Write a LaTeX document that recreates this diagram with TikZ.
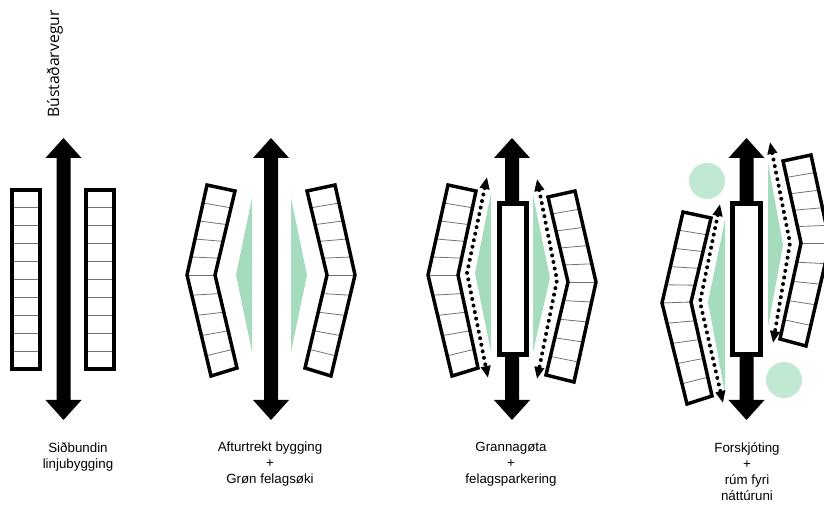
\documentclass[tikz,border=0pt]{standalone}
\usepackage{fontspec}
\setmainfont{Liberation Sans}
\newfontfamily\roadfont{Open Sans}
\usetikzlibrary{calc,arrows.meta}
\definecolor{grn}{RGB}{166,220,190}
\definecolor{grnl}{RGB}{192,232,211}
\tikzset{
 bldgline/.style={line width=2.6pt, line join=miter},
 divline/.style={line width=0.6pt, black!55},
 greenarea/.style={fill=grn},
 greencircle/.style={fill=grnl},
 park/.style={draw=black, line width=3.75pt, fill=white},
 walk/.style={line width=3pt, dash pattern=on 0pt off 5pt, line cap=round,
   {Triangle[length=9pt,width=7pt]}-{Triangle[length=9pt,width=7pt]}},
 caption/.style={align=center, font=\fontsize{10}{12}\selectfont, anchor=north, inner sep=0pt},
}
\newcommand\bldg[6]{%
 \fill[white] (#1)--(#2)--(#3)--(#6)--(#5)--(#4)--cycle;
 \foreach \k in {1,...,5}{\draw[divline] ($(#1)!\k/5!(#2)$)--($(#4)!\k/5!(#5)$);}
 \foreach \k in {1,...,4}{\draw[divline] ($(#2)!\k/5!(#3)$)--($(#5)!\k/5!(#6)$);}
 \draw[bldgline] (#1)--(#2)--(#3)--(#6)--(#5)--(#4)--cycle;
}
\newcommand\roadarrow[1]{%
 \fill (#1-7,158)--(#1-18,158)--(#1,138)--(#1+18,158)--(#1+7,158)--(#1+7,400)--(#1+18,400)--(#1,420)--(#1-18,400)--(#1-7,400)--cycle;
}
\begin{document}
\begin{tikzpicture}[x=0.75pt,y=-0.75pt]
\useasboundingbox (0,0) rectangle (824,505);

% Panel 1
\roadarrow{63.5}
\bldg{12,190}{12,279.5}{12,369}{40,190}{40,279.5}{40,369}
\bldg{86,190}{86,279.5}{86,369}{114,190}{114,279.5}{114,369}
\node[rotate=90, font=\roadfont\fontsize{11.8}{13}\selectfont, inner sep=0pt] (roadlabel) at (55,64) {Bústaðarvegur};

% Panel 2
\roadarrow{271}
\fill[greenarea] (252,198)--(236,275)--(252,352)--cycle;
\fill[greenarea] (291,198)--(307,275)--(291,352)--cycle;
\bldg{207,185}{187,275}{211,376}{235,191}{215,275}{237,368}
\bldg{335,185}{355,275}{331,376}{307,191}{327,275}{305,368}

% Panel 3
\roadarrow{512}
\draw[park] (499.5,203.5) rectangle (526.5,354.5);
\fill[greenarea] (491,193)--(475,273)--(491,352)--cycle;
\fill[greenarea] (533,195)--(550,278)--(533,352)--cycle;
\bldg{448,185}{428,275}{452,376}{476,191}{458,275}{478,368}
\bldg{575,191}{596,282}{574,382}{548,197}{568,282}{546,375}
\draw[walk] (487,177)--(467,273)--(488,378);
\draw[walk] (537,179)--(557,280)--(537,379);

% Panel 4
\fill[greencircle] (707,181) circle (18);
\fill[greencircle] (784,380) circle (18);
\roadarrow{746.5}
\draw[park] (732.5,203.5) rectangle (760.5,354.5);
\fill[greenarea] (725,220)--(708,302)--(725,393)--cycle;
\fill[greenarea] (768,163)--(783,245)--(768,327)--cycle;
\bldg{683,212}{662,303}{687,404}{711,218}{691,302}{712,396}
\bldg{811,155}{830,243}{806,346}{783,161}{801,243}{780,339}
\draw[walk] (720,204)--(700,302)--(723,403);
\draw[walk] (770,142)--(790,243)--(773,343);

% Captions
\node[caption] (cap1) at (78,442) {Siðbundin\\linjubygging};
\node[caption] (cap2) at (270,442) {Afturtrekt bygging\\+\\Grøn felagsøki};
\node[caption] (cap3) at (511,442) {Grannagøta\\+\\felagsparkering};
\node[caption] (cap4) at (747,442) {Forskjóting\\+\\rúm fyri\\náttúruni};
\end{tikzpicture}
\end{document}
